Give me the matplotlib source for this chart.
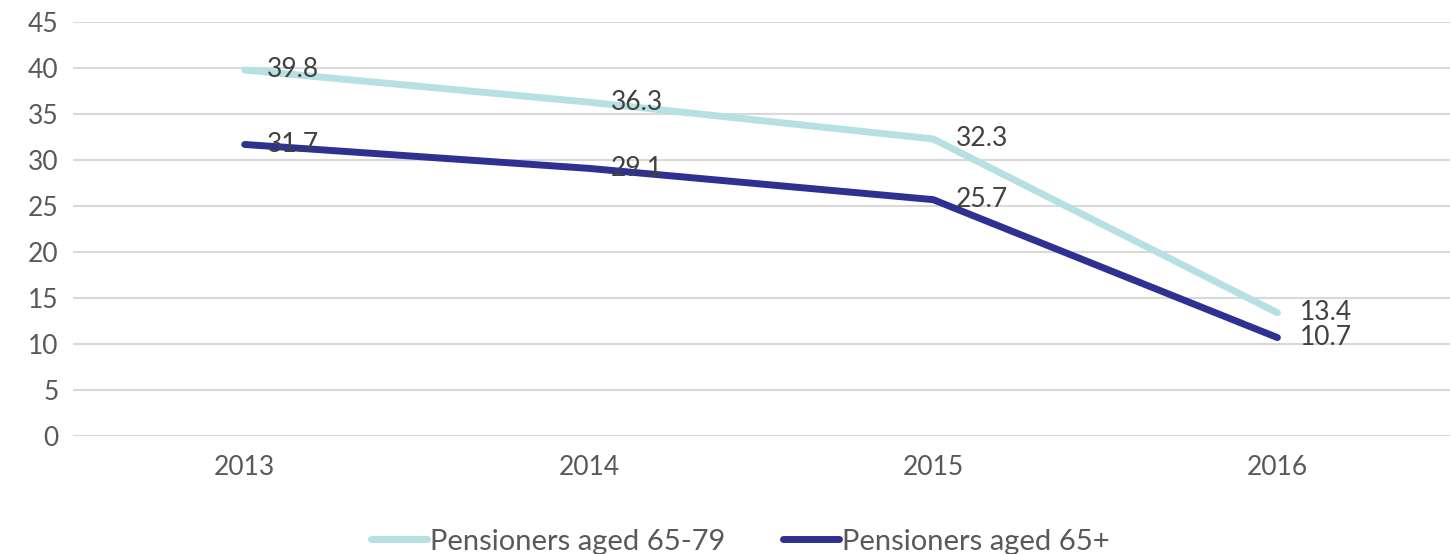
import matplotlib.pyplot as plt
import logging

years = ['2013', '2014', '2015', '2016']
aged_65_79 = [39.8, 36.3, 32.3, 13.4]
aged_65_plus = [31.7, 29.1, 25.7, 10.7]
series_names = ['Pensioners aged 65-79', 'Pensioners aged 65+']
y_ticks = [0, 5, 10, 15, 20, 25, 30, 35, 40, 45]


class ChartGenerationError(Exception):
    """Custom exception for errors during chart generation."""
    pass


def generate_line_chart(labels, series, names, filename='out.png'):
    """
    Generates a line chart with value labels and a legend below the plot.

    :param labels: Category labels for the X-axis.
    :param series: A list of value lists, one per line.
    :param names: Legend names for each line.
    :param filename: Where the figure is written.
    """
    logger = logging.getLogger(__name__)
    logger.info(f"Generating line chart with {len(series)} series")

    try:
        plt.rcParams['font.family'] = ['Lato', 'DejaVu Sans']
        colors = ['#B7E0E2', '#2E3192']

        plt.figure(figsize=(14.51, 5.54), dpi=100)
        ax = plt.axes([0.05, 0.213, 0.949, 0.747])
        x = list(range(len(labels)))
        for values, name, color in zip(series, names, colors):
            plt.plot(x, values, color=color, linewidth=5, label=name,
                     solid_capstyle='round', solid_joinstyle='round')
            for xi, v in zip(x, values):
                plt.annotate(f'{v}', (xi, v), xytext=(16, 0), textcoords='offset points',
                             ha='left', va='center', fontsize=19, color='#404040')

        plt.xlim(-0.5, len(labels) - 0.5)
        plt.ylim(0, 45)
        plt.yticks(y_ticks)
        plt.xticks(x, labels)
        plt.tick_params(length=0, labelsize=19, colors='#595959', pad=10)
        plt.tick_params(axis='x', pad=14)
        plt.grid(axis='y', color='#D9D9D9', linewidth=1.5)
        ax.set_axisbelow(True)
        for side in ['top', 'right', 'left', 'bottom']:
            ax.spines[side].set_visible(False)

        plt.legend(loc='center', bbox_to_anchor=(0.485, -0.255), ncol=2, frameon=False,
                   fontsize=21, handlelength=1.9, handletextpad=0.1, columnspacing=2.0,
                   labelcolor='#595959')
        plt.savefig(filename)
    except Exception as e:
        logger.error(f"Error generating line chart: {e}")
        raise ChartGenerationError(f"Error generating line chart: {e}")


if __name__ == "__main__":
    generate_line_chart(years, [aged_65_79, aged_65_plus], series_names)
